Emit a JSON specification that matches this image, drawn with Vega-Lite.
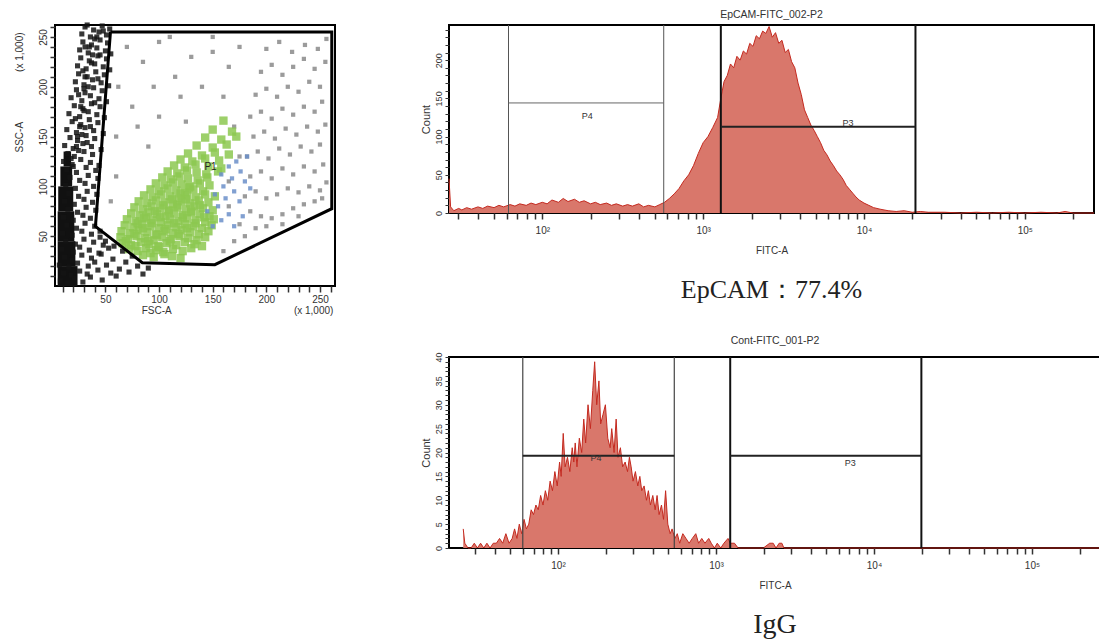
{
  "$schema": "https://vega.github.io/schema/vega-lite/v6.json",
  "background": "white",
  "padding": {"left": 12, "top": 8, "right": 0, "bottom": 0},
  "spacing": 80,
  "datasets": {
    "debris_core": [
      {"ssc_lo": 0, "ssc_hi": 20, "fsc_left": 5.5, "fsc_right": 24},
      {"ssc_lo": 20, "ssc_hi": 45, "fsc_left": 5.5, "fsc_right": 22},
      {"ssc_lo": 45, "ssc_hi": 75, "fsc_left": 5.5, "fsc_right": 21},
      {"ssc_lo": 75, "ssc_hi": 100, "fsc_left": 6, "fsc_right": 20},
      {"ssc_lo": 100, "ssc_hi": 120, "fsc_left": 8, "fsc_right": 19},
      {"ssc_lo": 120, "ssc_hi": 135, "fsc_left": 11, "fsc_right": 18}
    ],
    "gate_P1": [
      {"vertex": 1, "fsc": 54.7, "ssc": 255},
      {"vertex": 2, "fsc": 261, "ssc": 255},
      {"vertex": 3, "fsc": 261, "ssc": 77.6},
      {"vertex": 4, "fsc": 152, "ssc": 21.4},
      {"vertex": 5, "fsc": 84.4, "ssc": 23.4},
      {"vertex": 6, "fsc": 40.7, "ssc": 59.9},
      {"vertex": 7, "fsc": 54.7, "ssc": 255}
    ],
    "gate_P1_label": [{"fsc": 148, "ssc": 119, "gate": "P1"}],
    "events": [
      {"fsc":8,"ssc":5,"pop":"debris"},{"fsc":15,"ssc":3,"pop":"debris"},{"fsc":21,"ssc":8,"pop":"debris"},{"fsc":29,"ssc":4,"pop":"debris"},{"fsc":36,"ssc":9,"pop":"debris"},{"fsc":47,"ssc":6,"pop":"debris"},
      {"fsc":11,"ssc":13,"pop":"debris"},{"fsc":18,"ssc":11,"pop":"debris"},{"fsc":26,"ssc":15,"pop":"debris"},{"fsc":33,"ssc":12,"pop":"debris"},{"fsc":43,"ssc":16,"pop":"debris"},{"fsc":55,"ssc":13,"pop":"debris"},
      {"fsc":7,"ssc":21,"pop":"debris"},{"fsc":16,"ssc":19,"pop":"debris"},{"fsc":24,"ssc":23,"pop":"debris"},{"fsc":34,"ssc":20,"pop":"debris"},{"fsc":40,"ssc":24,"pop":"debris"},{"fsc":51,"ssc":21,"pop":"debris"},{"fsc":63,"ssc":17,"pop":"debris"},
      {"fsc":12,"ssc":29,"pop":"debris"},{"fsc":19,"ssc":26,"pop":"debris"},{"fsc":28,"ssc":31,"pop":"debris"},{"fsc":37,"ssc":28,"pop":"debris"},{"fsc":46,"ssc":32,"pop":"debris"},{"fsc":57,"ssc":27,"pop":"debris"},{"fsc":69,"ssc":24,"pop":"debris"},
      {"fsc":9,"ssc":37,"pop":"debris"},{"fsc":20,"ssc":34,"pop":"debris"},{"fsc":26,"ssc":39,"pop":"debris"},{"fsc":35,"ssc":36,"pop":"debris"},{"fsc":44,"ssc":33,"pop":"debris"},{"fsc":53,"ssc":38,"pop":"debris"},
      {"fsc":13,"ssc":45,"pop":"debris"},{"fsc":22,"ssc":42,"pop":"debris"},{"fsc":30,"ssc":47,"pop":"debris"},{"fsc":39,"ssc":44,"pop":"debris"},{"fsc":48,"ssc":41,"pop":"debris"},
      {"fsc":10,"ssc":53,"pop":"debris"},{"fsc":19,"ssc":51,"pop":"debris"},{"fsc":28,"ssc":55,"pop":"debris"},{"fsc":37,"ssc":52,"pop":"debris"},{"fsc":45,"ssc":49,"pop":"debris"},
      {"fsc":14,"ssc":61,"pop":"debris"},{"fsc":23,"ssc":58,"pop":"debris"},{"fsc":31,"ssc":63,"pop":"debris"},{"fsc":40,"ssc":60,"pop":"debris"},
      {"fsc":11,"ssc":69,"pop":"debris"},{"fsc":20,"ssc":66,"pop":"debris"},{"fsc":29,"ssc":71,"pop":"debris"},{"fsc":36,"ssc":68,"pop":"debris"},
      {"fsc":15,"ssc":77,"pop":"debris"},{"fsc":24,"ssc":74,"pop":"debris"},{"fsc":32,"ssc":79,"pop":"debris"},{"fsc":41,"ssc":76,"pop":"debris"},
      {"fsc":12,"ssc":85,"pop":"debris"},{"fsc":21,"ssc":82,"pop":"debris"},{"fsc":30,"ssc":87,"pop":"debris"},{"fsc":38,"ssc":84,"pop":"debris"},
      {"fsc":16,"ssc":93,"pop":"debris"},{"fsc":25,"ssc":90,"pop":"debris"},{"fsc":33,"ssc":95,"pop":"debris"},{"fsc":42,"ssc":92,"pop":"debris"},
      {"fsc":13,"ssc":101,"pop":"debris"},{"fsc":22,"ssc":98,"pop":"debris"},{"fsc":31,"ssc":103,"pop":"debris"},{"fsc":39,"ssc":100,"pop":"debris"},
      {"fsc":17,"ssc":109,"pop":"debris"},{"fsc":26,"ssc":106,"pop":"debris"},{"fsc":34,"ssc":111,"pop":"debris"},{"fsc":43,"ssc":108,"pop":"debris"},
      {"fsc":14,"ssc":117,"pop":"debris"},{"fsc":23,"ssc":114,"pop":"debris"},{"fsc":32,"ssc":119,"pop":"debris"},{"fsc":41,"ssc":116,"pop":"debris"},
      {"fsc":11,"ssc":125,"pop":"debris"},{"fsc":19,"ssc":122,"pop":"debris"},{"fsc":27,"ssc":127,"pop":"debris"},{"fsc":36,"ssc":124,"pop":"debris"},{"fsc":44,"ssc":121,"pop":"debris"},
      {"fsc":15,"ssc":133,"pop":"debris"},{"fsc":21,"ssc":130,"pop":"debris"},{"fsc":30,"ssc":135,"pop":"debris"},{"fsc":38,"ssc":132,"pop":"debris"},
      {"fsc":12,"ssc":141,"pop":"debris"},{"fsc":20,"ssc":138,"pop":"debris"},{"fsc":29,"ssc":143,"pop":"debris"},{"fsc":37,"ssc":140,"pop":"debris"},{"fsc":46,"ssc":137,"pop":"debris"},
      {"fsc":17,"ssc":149,"pop":"debris"},{"fsc":24,"ssc":146,"pop":"debris"},{"fsc":32,"ssc":151,"pop":"debris"},{"fsc":40,"ssc":148,"pop":"debris"},
      {"fsc":14,"ssc":157,"pop":"debris"},{"fsc":23,"ssc":154,"pop":"debris"},{"fsc":31,"ssc":159,"pop":"debris"},{"fsc":39,"ssc":156,"pop":"debris"},{"fsc":48,"ssc":153,"pop":"debris"},
      {"fsc":19,"ssc":165,"pop":"debris"},{"fsc":27,"ssc":162,"pop":"debris"},{"fsc":35,"ssc":167,"pop":"debris"},{"fsc":43,"ssc":164,"pop":"debris"},
      {"fsc":16,"ssc":173,"pop":"debris"},{"fsc":26,"ssc":170,"pop":"debris"},{"fsc":34,"ssc":175,"pop":"debris"},{"fsc":42,"ssc":172,"pop":"debris"},{"fsc":49,"ssc":169,"pop":"debris"},
      {"fsc":21,"ssc":181,"pop":"debris"},{"fsc":29,"ssc":178,"pop":"debris"},{"fsc":37,"ssc":183,"pop":"debris"},{"fsc":45,"ssc":180,"pop":"debris"},
      {"fsc":18,"ssc":189,"pop":"debris"},{"fsc":28,"ssc":186,"pop":"debris"},{"fsc":36,"ssc":191,"pop":"debris"},{"fsc":44,"ssc":188,"pop":"debris"},{"fsc":51,"ssc":185,"pop":"debris"},
      {"fsc":23,"ssc":197,"pop":"debris"},{"fsc":31,"ssc":194,"pop":"debris"},{"fsc":39,"ssc":199,"pop":"debris"},{"fsc":47,"ssc":196,"pop":"debris"},
      {"fsc":22,"ssc":205,"pop":"debris"},{"fsc":30,"ssc":202,"pop":"debris"},{"fsc":38,"ssc":207,"pop":"debris"},{"fsc":46,"ssc":204,"pop":"debris"},{"fsc":53,"ssc":201,"pop":"debris"},
      {"fsc":25,"ssc":213,"pop":"debris"},{"fsc":33,"ssc":210,"pop":"debris"},{"fsc":41,"ssc":215,"pop":"debris"},{"fsc":49,"ssc":212,"pop":"debris"},
      {"fsc":24,"ssc":221,"pop":"debris"},{"fsc":32,"ssc":218,"pop":"debris"},{"fsc":40,"ssc":223,"pop":"debris"},{"fsc":48,"ssc":220,"pop":"debris"},{"fsc":54,"ssc":217,"pop":"debris"},
      {"fsc":27,"ssc":229,"pop":"debris"},{"fsc":35,"ssc":226,"pop":"debris"},{"fsc":43,"ssc":231,"pop":"debris"},{"fsc":51,"ssc":228,"pop":"debris"},
      {"fsc":26,"ssc":237,"pop":"debris"},{"fsc":34,"ssc":234,"pop":"debris"},{"fsc":42,"ssc":239,"pop":"debris"},{"fsc":50,"ssc":236,"pop":"debris"},{"fsc":55,"ssc":233,"pop":"debris"},
      {"fsc":29,"ssc":245,"pop":"debris"},{"fsc":37,"ssc":242,"pop":"debris"},{"fsc":45,"ssc":247,"pop":"debris"},{"fsc":52,"ssc":244,"pop":"debris"},
      {"fsc":28,"ssc":253,"pop":"debris"},{"fsc":36,"ssc":250,"pop":"debris"},{"fsc":44,"ssc":255,"pop":"debris"},{"fsc":51,"ssc":252,"pop":"debris"},
      {"fsc":31,"ssc":260,"pop":"debris"},{"fsc":39,"ssc":257,"pop":"debris"},{"fsc":47,"ssc":261,"pop":"debris"},{"fsc":54,"ssc":258,"pop":"debris"},
      {"fsc":18,"ssc":128,"pop":"debris"},{"fsc":25,"ssc":136,"pop":"debris"},{"fsc":33,"ssc":144,"pop":"debris"},{"fsc":28,"ssc":152,"pop":"debris"},{"fsc":36,"ssc":160,"pop":"debris"},{"fsc":22,"ssc":168,"pop":"debris"},{"fsc":30,"ssc":176,"pop":"debris"},{"fsc":40,"ssc":184,"pop":"debris"},{"fsc":25,"ssc":192,"pop":"debris"},{"fsc":34,"ssc":200,"pop":"debris"},{"fsc":43,"ssc":208,"pop":"debris"},{"fsc":29,"ssc":216,"pop":"debris"},{"fsc":37,"ssc":224,"pop":"debris"},{"fsc":45,"ssc":232,"pop":"debris"},{"fsc":31,"ssc":240,"pop":"debris"},{"fsc":40,"ssc":248,"pop":"debris"},{"fsc":48,"ssc":256,"pop":"debris"},{"fsc":33,"ssc":262,"pop":"debris"},{"fsc":20,"ssc":120,"pop":"debris"},{"fsc":24,"ssc":150,"pop":"debris"},{"fsc":27,"ssc":180,"pop":"debris"},{"fsc":31,"ssc":210,"pop":"debris"},{"fsc":35,"ssc":240,"pop":"debris"},{"fsc":38,"ssc":232,"pop":"debris"},{"fsc":42,"ssc":250,"pop":"debris"},{"fsc":30,"ssc":198,"pop":"debris"},{"fsc":26,"ssc":160,"pop":"debris"},{"fsc":23,"ssc":140,"pop":"debris"},
      {"fsc":60,"ssc":10,"pop":"debris"},{"fsc":72,"ssc":14,"pop":"debris"},{"fsc":80,"ssc":20,"pop":"debris"},{"fsc":66,"ssc":35,"pop":"debris"},{"fsc":75,"ssc":30,"pop":"debris"},{"fsc":50,"ssc":45,"pop":"debris"},{"fsc":58,"ssc":40,"pop":"debris"},{"fsc":45,"ssc":55,"pop":"debris"},{"fsc":85,"ssc":12,"pop":"debris"},{"fsc":90,"ssc":18,"pop":"debris"},
      {"fsc":185,"ssc":75,"pop":"other"},{"fsc":195,"ssc":70,"pop":"other"},{"fsc":205,"ssc":68,"pop":"other"},{"fsc":215,"ssc":72,"pop":"other"},{"fsc":225,"ssc":78,"pop":"other"},{"fsc":235,"ssc":82,"pop":"other"},{"fsc":245,"ssc":85,"pop":"other"},{"fsc":252,"ssc":88,"pop":"other"},
      {"fsc":180,"ssc":90,"pop":"other"},{"fsc":190,"ssc":95,"pop":"other"},{"fsc":200,"ssc":88,"pop":"other"},{"fsc":210,"ssc":92,"pop":"other"},{"fsc":220,"ssc":98,"pop":"other"},{"fsc":230,"ssc":94,"pop":"other"},{"fsc":240,"ssc":100,"pop":"other"},{"fsc":250,"ssc":96,"pop":"other"},{"fsc":256,"ssc":104,"pop":"other"},
      {"fsc":185,"ssc":110,"pop":"other"},{"fsc":195,"ssc":115,"pop":"other"},{"fsc":205,"ssc":108,"pop":"other"},{"fsc":215,"ssc":118,"pop":"other"},{"fsc":225,"ssc":112,"pop":"other"},{"fsc":235,"ssc":120,"pop":"other"},{"fsc":245,"ssc":115,"pop":"other"},{"fsc":253,"ssc":122,"pop":"other"},
      {"fsc":182,"ssc":130,"pop":"other"},{"fsc":192,"ssc":135,"pop":"other"},{"fsc":202,"ssc":128,"pop":"other"},{"fsc":212,"ssc":138,"pop":"other"},{"fsc":222,"ssc":132,"pop":"other"},{"fsc":232,"ssc":140,"pop":"other"},{"fsc":242,"ssc":135,"pop":"other"},{"fsc":250,"ssc":142,"pop":"other"},
      {"fsc":188,"ssc":150,"pop":"other"},{"fsc":198,"ssc":155,"pop":"other"},{"fsc":208,"ssc":148,"pop":"other"},{"fsc":218,"ssc":158,"pop":"other"},{"fsc":228,"ssc":152,"pop":"other"},{"fsc":238,"ssc":160,"pop":"other"},{"fsc":248,"ssc":155,"pop":"other"},{"fsc":255,"ssc":162,"pop":"other"},
      {"fsc":185,"ssc":170,"pop":"other"},{"fsc":195,"ssc":175,"pop":"other"},{"fsc":205,"ssc":168,"pop":"other"},{"fsc":215,"ssc":178,"pop":"other"},{"fsc":225,"ssc":172,"pop":"other"},{"fsc":235,"ssc":180,"pop":"other"},{"fsc":245,"ssc":175,"pop":"other"},{"fsc":252,"ssc":185,"pop":"other"},
      {"fsc":190,"ssc":192,"pop":"other"},{"fsc":200,"ssc":198,"pop":"other"},{"fsc":210,"ssc":190,"pop":"other"},{"fsc":220,"ssc":200,"pop":"other"},{"fsc":230,"ssc":195,"pop":"other"},{"fsc":240,"ssc":205,"pop":"other"},{"fsc":250,"ssc":200,"pop":"other"},
      {"fsc":195,"ssc":215,"pop":"other"},{"fsc":205,"ssc":222,"pop":"other"},{"fsc":215,"ssc":212,"pop":"other"},{"fsc":225,"ssc":220,"pop":"other"},{"fsc":235,"ssc":228,"pop":"other"},{"fsc":245,"ssc":218,"pop":"other"},{"fsc":255,"ssc":225,"pop":"other"},
      {"fsc":200,"ssc":238,"pop":"other"},{"fsc":212,"ssc":245,"pop":"other"},{"fsc":224,"ssc":235,"pop":"other"},{"fsc":236,"ssc":242,"pop":"other"},{"fsc":248,"ssc":238,"pop":"other"},{"fsc":256,"ssc":248,"pop":"other"},
      {"fsc":70,"ssc":240,"pop":"other"},{"fsc":85,"ssc":225,"pop":"other"},{"fsc":100,"ssc":245,"pop":"other"},{"fsc":115,"ssc":210,"pop":"other"},{"fsc":130,"ssc":230,"pop":"other"},{"fsc":150,"ssc":250,"pop":"other"},{"fsc":165,"ssc":220,"pop":"other"},{"fsc":175,"ssc":240,"pop":"other"},{"fsc":120,"ssc":190,"pop":"other"},{"fsc":95,"ssc":200,"pop":"other"},{"fsc":75,"ssc":180,"pop":"other"},{"fsc":140,"ssc":200,"pop":"other"},{"fsc":160,"ssc":190,"pop":"other"},{"fsc":60,"ssc":150,"pop":"other"},{"fsc":80,"ssc":160,"pop":"other"},{"fsc":100,"ssc":170,"pop":"other"},{"fsc":125,"ssc":165,"pop":"other"},{"fsc":170,"ssc":160,"pop":"other"},{"fsc":175,"ssc":130,"pop":"other"},{"fsc":165,"ssc":105,"pop":"other"},{"fsc":60,"ssc":110,"pop":"other"},{"fsc":55,"ssc":85,"pop":"other"},{"fsc":150,"ssc":235,"pop":"other"},{"fsc":110,"ssc":250,"pop":"other"},{"fsc":62,"ssc":200,"pop":"other"},{"fsc":90,"ssc":140,"pop":"other"},
      {"fsc":160,"ssc":35,"pop":"other"},{"fsc":170,"ssc":45,"pop":"other"},{"fsc":180,"ssc":50,"pop":"other"},{"fsc":190,"ssc":58,"pop":"other"},{"fsc":175,"ssc":62,"pop":"other"},{"fsc":165,"ssc":80,"pop":"other"},{"fsc":200,"ssc":60,"pop":"other"},{"fsc":215,"ssc":62,"pop":"other"},{"fsc":230,"ssc":70,"pop":"other"},
      {"fsc":85,"ssc":31,"pop":"P1"},{"fsc":95,"ssc":29,"pop":"P1"},{"fsc":105,"ssc":32,"pop":"P1"},{"fsc":112,"ssc":30,"pop":"P1"},{"fsc":120,"ssc":28,"pop":"P1"},
      {"fsc":72,"ssc":37,"pop":"P1"},{"fsc":80,"ssc":35,"pop":"P1"},{"fsc":88,"ssc":38,"pop":"P1"},{"fsc":97,"ssc":36,"pop":"P1"},{"fsc":104,"ssc":34,"pop":"P1"},{"fsc":113,"ssc":37,"pop":"P1"},{"fsc":122,"ssc":35,"pop":"P1"},{"fsc":130,"ssc":38,"pop":"P1"},
      {"fsc":66,"ssc":43,"pop":"P1"},{"fsc":74,"ssc":41,"pop":"P1"},{"fsc":83,"ssc":44,"pop":"P1"},{"fsc":91,"ssc":42,"pop":"P1"},{"fsc":99,"ssc":40,"pop":"P1"},{"fsc":107,"ssc":43,"pop":"P1"},{"fsc":116,"ssc":41,"pop":"P1"},{"fsc":124,"ssc":44,"pop":"P1"},{"fsc":133,"ssc":42,"pop":"P1"},{"fsc":140,"ssc":40,"pop":"P1"},
      {"fsc":64,"ssc":49,"pop":"P1"},{"fsc":71,"ssc":47,"pop":"P1"},{"fsc":79,"ssc":50,"pop":"P1"},{"fsc":87,"ssc":48,"pop":"P1"},{"fsc":95,"ssc":46,"pop":"P1"},{"fsc":103,"ssc":49,"pop":"P1"},{"fsc":111,"ssc":47,"pop":"P1"},{"fsc":119,"ssc":50,"pop":"P1"},{"fsc":127,"ssc":48,"pop":"P1"},{"fsc":135,"ssc":46,"pop":"P1"},{"fsc":143,"ssc":49,"pop":"P1"},
      {"fsc":65,"ssc":55,"pop":"P1"},{"fsc":73,"ssc":53,"pop":"P1"},{"fsc":81,"ssc":56,"pop":"P1"},{"fsc":89,"ssc":54,"pop":"P1"},{"fsc":97,"ssc":52,"pop":"P1"},{"fsc":105,"ssc":55,"pop":"P1"},{"fsc":113,"ssc":53,"pop":"P1"},{"fsc":121,"ssc":56,"pop":"P1"},{"fsc":129,"ssc":54,"pop":"P1"},{"fsc":137,"ssc":52,"pop":"P1"},{"fsc":146,"ssc":55,"pop":"P1"},
      {"fsc":68,"ssc":61,"pop":"P1"},{"fsc":76,"ssc":59,"pop":"P1"},{"fsc":84,"ssc":62,"pop":"P1"},{"fsc":92,"ssc":60,"pop":"P1"},{"fsc":100,"ssc":58,"pop":"P1"},{"fsc":108,"ssc":61,"pop":"P1"},{"fsc":116,"ssc":59,"pop":"P1"},{"fsc":124,"ssc":62,"pop":"P1"},{"fsc":132,"ssc":60,"pop":"P1"},{"fsc":140,"ssc":58,"pop":"P1"},{"fsc":149,"ssc":61,"pop":"P1"},
      {"fsc":70,"ssc":67,"pop":"P1"},{"fsc":78,"ssc":65,"pop":"P1"},{"fsc":86,"ssc":68,"pop":"P1"},{"fsc":94,"ssc":66,"pop":"P1"},{"fsc":102,"ssc":64,"pop":"P1"},{"fsc":110,"ssc":67,"pop":"P1"},{"fsc":118,"ssc":65,"pop":"P1"},{"fsc":126,"ssc":68,"pop":"P1"},{"fsc":134,"ssc":66,"pop":"P1"},{"fsc":143,"ssc":64,"pop":"P1"},{"fsc":151,"ssc":67,"pop":"P1"},
      {"fsc":74,"ssc":73,"pop":"P1"},{"fsc":82,"ssc":71,"pop":"P1"},{"fsc":90,"ssc":74,"pop":"P1"},{"fsc":98,"ssc":72,"pop":"P1"},{"fsc":106,"ssc":70,"pop":"P1"},{"fsc":114,"ssc":73,"pop":"P1"},{"fsc":122,"ssc":71,"pop":"P1"},{"fsc":130,"ssc":74,"pop":"P1"},{"fsc":138,"ssc":72,"pop":"P1"},{"fsc":147,"ssc":70,"pop":"P1"},
      {"fsc":77,"ssc":79,"pop":"P1"},{"fsc":85,"ssc":77,"pop":"P1"},{"fsc":93,"ssc":80,"pop":"P1"},{"fsc":101,"ssc":78,"pop":"P1"},{"fsc":109,"ssc":76,"pop":"P1"},{"fsc":117,"ssc":79,"pop":"P1"},{"fsc":125,"ssc":77,"pop":"P1"},{"fsc":133,"ssc":80,"pop":"P1"},{"fsc":141,"ssc":78,"pop":"P1"},{"fsc":150,"ssc":76,"pop":"P1"},
      {"fsc":81,"ssc":85,"pop":"P1"},{"fsc":89,"ssc":83,"pop":"P1"},{"fsc":97,"ssc":86,"pop":"P1"},{"fsc":105,"ssc":84,"pop":"P1"},{"fsc":113,"ssc":82,"pop":"P1"},{"fsc":121,"ssc":85,"pop":"P1"},{"fsc":129,"ssc":83,"pop":"P1"},{"fsc":137,"ssc":86,"pop":"P1"},{"fsc":146,"ssc":84,"pop":"P1"},
      {"fsc":86,"ssc":91,"pop":"P1"},{"fsc":94,"ssc":89,"pop":"P1"},{"fsc":102,"ssc":92,"pop":"P1"},{"fsc":110,"ssc":90,"pop":"P1"},{"fsc":118,"ssc":88,"pop":"P1"},{"fsc":126,"ssc":91,"pop":"P1"},{"fsc":134,"ssc":89,"pop":"P1"},{"fsc":143,"ssc":92,"pop":"P1"},{"fsc":152,"ssc":90,"pop":"P1"},
      {"fsc":92,"ssc":97,"pop":"P1"},{"fsc":100,"ssc":95,"pop":"P1"},{"fsc":108,"ssc":98,"pop":"P1"},{"fsc":116,"ssc":96,"pop":"P1"},{"fsc":124,"ssc":94,"pop":"P1"},{"fsc":132,"ssc":97,"pop":"P1"},{"fsc":141,"ssc":95,"pop":"P1"},
      {"fsc":97,"ssc":103,"pop":"P1"},{"fsc":105,"ssc":101,"pop":"P1"},{"fsc":113,"ssc":104,"pop":"P1"},{"fsc":121,"ssc":102,"pop":"P1"},{"fsc":129,"ssc":100,"pop":"P1"},{"fsc":138,"ssc":103,"pop":"P1"},{"fsc":147,"ssc":101,"pop":"P1"},
      {"fsc":103,"ssc":109,"pop":"P1"},{"fsc":111,"ssc":107,"pop":"P1"},{"fsc":119,"ssc":110,"pop":"P1"},{"fsc":127,"ssc":108,"pop":"P1"},{"fsc":136,"ssc":106,"pop":"P1"},{"fsc":145,"ssc":109,"pop":"P1"},
      {"fsc":108,"ssc":115,"pop":"P1"},{"fsc":117,"ssc":113,"pop":"P1"},{"fsc":126,"ssc":116,"pop":"P1"},{"fsc":135,"ssc":114,"pop":"P1"},{"fsc":144,"ssc":112,"pop":"P1"},{"fsc":155,"ssc":115,"pop":"P1"},
      {"fsc":114,"ssc":121,"pop":"P1"},{"fsc":124,"ssc":119,"pop":"P1"},{"fsc":134,"ssc":122,"pop":"P1"},{"fsc":146,"ssc":120,"pop":"P1"},{"fsc":158,"ssc":118,"pop":"P1"},
      {"fsc":120,"ssc":127,"pop":"P1"},{"fsc":131,"ssc":125,"pop":"P1"},{"fsc":143,"ssc":128,"pop":"P1"},{"fsc":156,"ssc":126,"pop":"P1"},
      {"fsc":127,"ssc":133,"pop":"P1"},{"fsc":140,"ssc":131,"pop":"P1"},{"fsc":152,"ssc":134,"pop":"P1"},{"fsc":165,"ssc":132,"pop":"P1"},
      {"fsc":135,"ssc":141,"pop":"P1"},{"fsc":150,"ssc":139,"pop":"P1"},{"fsc":163,"ssc":142,"pop":"P1"},
      {"fsc":143,"ssc":149,"pop":"P1"},{"fsc":158,"ssc":147,"pop":"P1"},{"fsc":172,"ssc":150,"pop":"P1"},
      {"fsc":150,"ssc":157,"pop":"P1"},{"fsc":168,"ssc":155,"pop":"P1"},{"fsc":160,"ssc":166,"pop":"P1"},
      {"fsc":69,"ssc":45,"pop":"P1"},{"fsc":77,"ssc":52,"pop":"P1"},{"fsc":85,"ssc":58,"pop":"P1"},{"fsc":93,"ssc":63,"pop":"P1"},{"fsc":101,"ssc":69,"pop":"P1"},{"fsc":109,"ssc":75,"pop":"P1"},{"fsc":117,"ssc":81,"pop":"P1"},{"fsc":125,"ssc":87,"pop":"P1"},{"fsc":90,"ssc":45,"pop":"P1"},{"fsc":98,"ssc":51,"pop":"P1"},{"fsc":106,"ssc":57,"pop":"P1"},{"fsc":114,"ssc":63,"pop":"P1"},{"fsc":122,"ssc":69,"pop":"P1"},{"fsc":130,"ssc":75,"pop":"P1"},{"fsc":138,"ssc":81,"pop":"P1"},{"fsc":80,"ssc":63,"pop":"P1"},{"fsc":88,"ssc":69,"pop":"P1"},{"fsc":96,"ssc":75,"pop":"P1"},{"fsc":104,"ssc":81,"pop":"P1"},{"fsc":112,"ssc":87,"pop":"P1"},{"fsc":120,"ssc":93,"pop":"P1"},{"fsc":128,"ssc":99,"pop":"P1"},{"fsc":100,"ssc":39,"pop":"P1"},{"fsc":110,"ssc":45,"pop":"P1"},{"fsc":118,"ssc":52,"pop":"P1"},{"fsc":126,"ssc":58,"pop":"P1"},{"fsc":134,"ssc":63,"pop":"P1"},{"fsc":142,"ssc":69,"pop":"P1"},{"fsc":92,"ssc":33,"pop":"P1"},{"fsc":78,"ssc":40,"pop":"P1"},
      {"fsc":150,"ssc":60,"pop":"blue"},{"fsc":158,"ssc":66,"pop":"blue"},{"fsc":165,"ssc":72,"pop":"blue"},{"fsc":155,"ssc":80,"pop":"blue"},{"fsc":162,"ssc":88,"pop":"blue"},{"fsc":170,"ssc":95,"pop":"blue"},{"fsc":175,"ssc":85,"pop":"blue"},{"fsc":160,"ssc":100,"pop":"blue"},{"fsc":168,"ssc":108,"pop":"blue"},{"fsc":176,"ssc":115,"pop":"blue"},{"fsc":172,"ssc":125,"pop":"blue"},{"fsc":180,"ssc":105,"pop":"blue"},{"fsc":152,"ssc":92,"pop":"blue"},{"fsc":165,"ssc":120,"pop":"blue"},{"fsc":178,"ssc":70,"pop":"blue"},{"fsc":170,"ssc":60,"pop":"blue"},{"fsc":185,"ssc":98,"pop":"blue"},{"fsc":158,"ssc":112,"pop":"blue"},{"fsc":182,"ssc":130,"pop":"blue"},{"fsc":145,"ssc":75,"pop":"blue"}
    ],
    "hist_epcam": [
      {"log10_fitc":1.42,"count":45},{"log10_fitc":1.43,"count":8},{"log10_fitc":1.45,"count":3},{"log10_fitc":1.48,"count":6},{"log10_fitc":1.5,"count":4},{"log10_fitc":1.53,"count":7},{"log10_fitc":1.56,"count":5},{"log10_fitc":1.6,"count":8},{"log10_fitc":1.63,"count":6},{"log10_fitc":1.66,"count":9},{"log10_fitc":1.7,"count":7},{"log10_fitc":1.73,"count":10},{"log10_fitc":1.76,"count":8},{"log10_fitc":1.8,"count":11},{"log10_fitc":1.83,"count":9},{"log10_fitc":1.86,"count":12},{"log10_fitc":1.9,"count":10},{"log10_fitc":1.93,"count":13},{"log10_fitc":1.96,"count":11},{"log10_fitc":2.0,"count":14},{"log10_fitc":2.03,"count":12},{"log10_fitc":2.06,"count":17},{"log10_fitc":2.1,"count":14},{"log10_fitc":2.13,"count":19},{"log10_fitc":2.16,"count":15},{"log10_fitc":2.2,"count":18},{"log10_fitc":2.23,"count":14},{"log10_fitc":2.26,"count":16},{"log10_fitc":2.3,"count":12},{"log10_fitc":2.33,"count":14},{"log10_fitc":2.36,"count":11},{"log10_fitc":2.4,"count":13},{"log10_fitc":2.43,"count":10},{"log10_fitc":2.46,"count":12},{"log10_fitc":2.5,"count":9},{"log10_fitc":2.53,"count":11},{"log10_fitc":2.56,"count":9},{"log10_fitc":2.6,"count":12},{"log10_fitc":2.63,"count":8},{"log10_fitc":2.66,"count":10},{"log10_fitc":2.7,"count":8},{"log10_fitc":2.73,"count":11},{"log10_fitc":2.76,"count":14},{"log10_fitc":2.79,"count":19},{"log10_fitc":2.82,"count":25},{"log10_fitc":2.85,"count":32},{"log10_fitc":2.88,"count":42},{"log10_fitc":2.91,"count":50},{"log10_fitc":2.94,"count":62},{"log10_fitc":2.97,"count":78},{"log10_fitc":3.0,"count":92},{"log10_fitc":3.03,"count":100},{"log10_fitc":3.06,"count":112},{"log10_fitc":3.09,"count":125},{"log10_fitc":3.11,"count":150},{"log10_fitc":3.13,"count":172},{"log10_fitc":3.15,"count":180},{"log10_fitc":3.17,"count":195},{"log10_fitc":3.19,"count":190},{"log10_fitc":3.21,"count":205},{"log10_fitc":3.23,"count":200},{"log10_fitc":3.25,"count":212},{"log10_fitc":3.27,"count":208},{"log10_fitc":3.29,"count":222},{"log10_fitc":3.31,"count":218},{"log10_fitc":3.33,"count":232},{"log10_fitc":3.35,"count":228},{"log10_fitc":3.37,"count":238},{"log10_fitc":3.39,"count":235},{"log10_fitc":3.41,"count":244},{"log10_fitc":3.43,"count":230},{"log10_fitc":3.45,"count":236},{"log10_fitc":3.47,"count":222},{"log10_fitc":3.49,"count":226},{"log10_fitc":3.51,"count":210},{"log10_fitc":3.53,"count":214},{"log10_fitc":3.55,"count":198},{"log10_fitc":3.57,"count":190},{"log10_fitc":3.59,"count":170},{"log10_fitc":3.61,"count":155},{"log10_fitc":3.63,"count":135},{"log10_fitc":3.65,"count":125},{"log10_fitc":3.67,"count":115},{"log10_fitc":3.69,"count":108},{"log10_fitc":3.71,"count":100},{"log10_fitc":3.73,"count":92},{"log10_fitc":3.75,"count":82},{"log10_fitc":3.77,"count":76},{"log10_fitc":3.79,"count":68},{"log10_fitc":3.81,"count":62},{"log10_fitc":3.83,"count":55},{"log10_fitc":3.85,"count":50},{"log10_fitc":3.87,"count":44},{"log10_fitc":3.89,"count":36},{"log10_fitc":3.91,"count":31},{"log10_fitc":3.93,"count":26},{"log10_fitc":3.95,"count":21},{"log10_fitc":3.97,"count":17},{"log10_fitc":4.0,"count":13},{"log10_fitc":4.03,"count":10},{"log10_fitc":4.06,"count":7},{"log10_fitc":4.1,"count":5},{"log10_fitc":4.15,"count":3},{"log10_fitc":4.2,"count":2},{"log10_fitc":4.25,"count":3},{"log10_fitc":4.3,"count":1},{"log10_fitc":4.35,"count":2},{"log10_fitc":4.4,"count":1},{"log10_fitc":4.5,"count":1},{"log10_fitc":4.6,"count":0},{"log10_fitc":4.7,"count":1},{"log10_fitc":4.8,"count":0},{"log10_fitc":4.9,"count":1},{"log10_fitc":5.0,"count":0},{"log10_fitc":5.1,"count":1},{"log10_fitc":5.2,"count":0},{"log10_fitc":5.25,"count":2},{"log10_fitc":5.3,"count":0},{"log10_fitc":5.43,"count":0}
    ],
    "hist_igg": [
      {"log10_fitc":1.4,"count":4},{"log10_fitc":1.41,"count":1},{"log10_fitc":1.43,"count":0},{"log10_fitc":1.45,"count":0},{"log10_fitc":1.47,"count":1},{"log10_fitc":1.49,"count":0},{"log10_fitc":1.51,"count":1},{"log10_fitc":1.53,"count":0},{"log10_fitc":1.55,"count":1},{"log10_fitc":1.57,"count":0},{"log10_fitc":1.59,"count":1},{"log10_fitc":1.61,"count":1},{"log10_fitc":1.63,"count":2},{"log10_fitc":1.65,"count":1},{"log10_fitc":1.67,"count":3},{"log10_fitc":1.69,"count":1},{"log10_fitc":1.71,"count":2},{"log10_fitc":1.725,"count":4},{"log10_fitc":1.74,"count":2},{"log10_fitc":1.755,"count":5},{"log10_fitc":1.77,"count":3},{"log10_fitc":1.785,"count":6},{"log10_fitc":1.8,"count":4},{"log10_fitc":1.815,"count":5},{"log10_fitc":1.83,"count":8},{"log10_fitc":1.845,"count":7},{"log10_fitc":1.86,"count":9},{"log10_fitc":1.875,"count":8},{"log10_fitc":1.89,"count":11},{"log10_fitc":1.905,"count":9},{"log10_fitc":1.92,"count":12},{"log10_fitc":1.935,"count":10},{"log10_fitc":1.95,"count":14},{"log10_fitc":1.965,"count":12},{"log10_fitc":1.98,"count":16},{"log10_fitc":1.995,"count":13},{"log10_fitc":2.01,"count":18},{"log10_fitc":2.02,"count":15},{"log10_fitc":2.033,"count":24},{"log10_fitc":2.045,"count":17},{"log10_fitc":2.06,"count":19},{"log10_fitc":2.075,"count":16},{"log10_fitc":2.09,"count":21},{"log10_fitc":2.1,"count":18},{"log10_fitc":2.109,"count":22},{"log10_fitc":2.12,"count":17},{"log10_fitc":2.135,"count":23},{"log10_fitc":2.15,"count":20},{"log10_fitc":2.163,"count":27},{"log10_fitc":2.175,"count":22},{"log10_fitc":2.19,"count":30},{"log10_fitc":2.205,"count":25},{"log10_fitc":2.22,"count":33},{"log10_fitc":2.232,"count":39},{"log10_fitc":2.245,"count":30},{"log10_fitc":2.259,"count":35},{"log10_fitc":2.27,"count":26},{"log10_fitc":2.285,"count":28},{"log10_fitc":2.3,"count":30},{"log10_fitc":2.315,"count":23},{"log10_fitc":2.33,"count":21},{"log10_fitc":2.34,"count":25},{"log10_fitc":2.355,"count":20},{"log10_fitc":2.368,"count":27},{"log10_fitc":2.38,"count":19},{"log10_fitc":2.395,"count":21},{"log10_fitc":2.409,"count":17},{"log10_fitc":2.425,"count":18},{"log10_fitc":2.44,"count":16},{"log10_fitc":2.452,"count":19},{"log10_fitc":2.463,"count":17},{"log10_fitc":2.475,"count":14},{"log10_fitc":2.49,"count":16},{"log10_fitc":2.505,"count":13},{"log10_fitc":2.518,"count":15},{"log10_fitc":2.53,"count":12},{"log10_fitc":2.545,"count":13},{"log10_fitc":2.56,"count":10},{"log10_fitc":2.572,"count":12},{"log10_fitc":2.585,"count":9},{"log10_fitc":2.6,"count":11},{"log10_fitc":2.615,"count":8},{"log10_fitc":2.627,"count":11},{"log10_fitc":2.64,"count":7},{"log10_fitc":2.655,"count":9},{"log10_fitc":2.668,"count":6},{"log10_fitc":2.681,"count":12},{"log10_fitc":2.695,"count":5},{"log10_fitc":2.71,"count":3},{"log10_fitc":2.722,"count":4},{"log10_fitc":2.74,"count":2},{"log10_fitc":2.755,"count":3},{"log10_fitc":2.77,"count":1},{"log10_fitc":2.79,"count":3},{"log10_fitc":2.81,"count":2},{"log10_fitc":2.83,"count":1},{"log10_fitc":2.85,"count":2},{"log10_fitc":2.872,"count":3},{"log10_fitc":2.89,"count":1},{"log10_fitc":2.91,"count":2},{"log10_fitc":2.93,"count":1},{"log10_fitc":2.954,"count":2},{"log10_fitc":2.97,"count":1},{"log10_fitc":2.99,"count":0},{"log10_fitc":3.008,"count":1},{"log10_fitc":3.03,"count":0},{"log10_fitc":3.05,"count":1},{"log10_fitc":3.076,"count":2},{"log10_fitc":3.09,"count":1},{"log10_fitc":3.117,"count":1},{"log10_fitc":3.14,"count":0},{"log10_fitc":3.3,"count":0},{"log10_fitc":3.34,"count":1},{"log10_fitc":3.362,"count":1},{"log10_fitc":3.38,"count":0},{"log10_fitc":3.4,"count":1},{"log10_fitc":3.417,"count":1},{"log10_fitc":3.43,"count":0},{"log10_fitc":5.43,"count":0}
    ],
    "gates_epcam": [
      {"gate": "P4", "lo": 1.79, "hi": 2.755, "level": 144, "label_x": 2.28, "label_y": 127},
      {"gate": "P3", "lo": 3.11, "hi": 4.32, "level": 113, "label_x": 3.9, "label_y": 118}
    ],
    "gates_igg": [
      {"gate": "P4", "lo": 1.777, "hi": 2.736, "level": 19.3, "label_x": 2.24, "label_y": 18.8},
      {"gate": "P3", "lo": 3.09, "hi": 4.3, "level": 19.3, "label_x": 3.85, "label_y": 17.9}
    ]
  },
  "hconcat": [
    {
      "width": 280,
      "height": 261,
      "encoding": {
        "x": {"type": "quantitative", "scale": {"domain": [3, 264], "nice": false},
              "axis": {"values": [10, 20, 30, 40, 50, 60, 70, 80, 90, 100, 110, 120, 130, 140, 150, 160, 170, 180, 190, 200, 210, 220, 230, 240, 250, 260], "labelExpr": "datum.value % 50 == 0 ? datum.label : ''", "tickSize": 6, "tickWidth": 1.5, "labelFontSize": 10, "labelPadding": 2, "labelFlush": false, "title": "FSC-A\u00a0\u00a0\u00a0\u00a0\u00a0\u00a0\u00a0\u00a0\u00a0\u00a0\u00a0\u00a0\u00a0\u00a0\u00a0\u00a0\u00a0\u00a0\u00a0\u00a0\u00a0\u00a0\u00a0\u00a0\u00a0\u00a0\u00a0\u00a0\u00a0\u00a0\u00a0\u00a0\u00a0\u00a0\u00a0\u00a0\u00a0\u00a0\u00a0\u00a0\u00a0\u00a0\u00a0\u00a0(x 1,000)", "titleFontSize": 10, "titleX": 182, "titleY": 24, "titleBaseline": "middle"}},
        "y": {"type": "quantitative", "scale": {"domain": [0, 262], "nice": false},
              "axis": {"values": [10, 20, 30, 40, 50, 60, 70, 80, 90, 100, 110, 120, 130, 140, 150, 160, 170, 180, 190, 200, 210, 220, 230, 240, 250, 260], "labelExpr": "datum.value % 50 == 0 ? datum.label : ''", "labelAngle": -90, "tickSize": 5, "tickWidth": 1.5, "labelFontSize": 10, "labelPadding": 2, "labelFlush": false, "title": "SSC-A\u00a0\u00a0\u00a0\u00a0\u00a0\u00a0\u00a0\u00a0\u00a0\u00a0\u00a0\u00a0\u00a0\u00a0\u00a0\u00a0\u00a0\u00a0(x 1,000)", "titleFontSize": 10, "titleAngle": -90, "titleX": -36, "titleY": 67, "titleBaseline": "middle"}}
      },
      "layer": [
        {
          "data": {"name": "debris_core"},
          "mark": {"type": "rect", "color": "#111111"},
          "encoding": {
            "x": {"field": "fsc_left", "type": "quantitative"},
            "x2": {"field": "fsc_right"},
            "y": {"field": "ssc_lo", "type": "quantitative"},
            "y2": {"field": "ssc_hi"}
          }
        },
        {
          "data": {"name": "events"},
          "mark": {"type": "square", "opacity": 0.85},
          "encoding": {
            "x": {"field": "fsc", "type": "quantitative"},
            "y": {"field": "ssc", "type": "quantitative"},
            "color": {"field": "pop", "type": "nominal", "scale": {"domain": ["debris", "other", "P1", "blue"], "range": ["#141414", "#8a8a8a", "#8cc850", "#6b8fc9"]}, "legend": null},
            "size": {"condition": [{"test": "datum.pop == 'P1'", "value": 70}, {"test": "datum.pop == 'debris'", "value": 26}, {"test": "datum.pop == 'blue'", "value": 18}], "value": 18}
          }
        },
        {
          "data": {"name": "gate_P1"},
          "mark": {"type": "line", "color": "#000000", "strokeWidth": 3},
          "encoding": {
            "x": {"field": "fsc", "type": "quantitative"},
            "y": {"field": "ssc", "type": "quantitative"},
            "order": {"field": "vertex", "type": "quantitative"}
          }
        },
        {
          "data": {"name": "gate_P1_label"},
          "mark": {"type": "text", "fontSize": 10, "color": "#222222"},
          "encoding": {
            "x": {"field": "fsc", "type": "quantitative"},
            "y": {"field": "ssc", "type": "quantitative"},
            "text": {"field": "gate"}
          }
        }
      ]
    },
    {
      "spacing": 23,
      "vconcat": [
        {
          "spacing": 12,
          "vconcat": [
            {
              "width": 645,
              "height": 188,
              "title": {"text": "EpCAM-FITC_002-P2", "font": "Liberation Sans", "fontSize": 10.5, "fontWeight": "normal", "color": "#333333", "offset": 4},
              "encoding": {
                "x": {"type": "quantitative", "scale": {"domain": [1.42, 5.43], "nice": false, "zero": false},
                      "axis": {"values": [1.477, 1.602, 1.699, 1.778, 1.845, 1.903, 1.954, 2, 2.301, 2.477, 2.602, 2.699, 2.778, 2.845, 2.903, 2.954, 3, 3.301, 3.477, 3.602, 3.699, 3.778, 3.845, 3.903, 3.954, 4, 4.301, 4.477, 4.602, 4.699, 4.778, 4.845, 4.903, 4.954, 5, 5.301], "labelExpr": "datum.value == 2 ? '10²' : datum.value == 3 ? '10³' : datum.value == 4 ? '10⁴' : datum.value == 5 ? '10⁵' : ''", "tickSize": 6, "tickWidth": 1.5, "labelFontSize": 10, "labelPadding": 6, "labelFlush": false, "title": "FITC-A", "titleFontSize": 10, "titlePadding": 10}},
                "y": {"type": "quantitative", "scale": {"domain": [0, 246], "nice": false},
                      "axis": {"values": [0, 10, 20, 30, 40, 50, 60, 70, 80, 90, 100, 110, 120, 130, 140, 150, 160, 170, 180, 190, 200, 210, 220, 230, 240], "labelExpr": "datum.value % 50 == 0 ? datum.label : ''", "labelAngle": -90, "tickSize": 4, "labelFontSize": 9, "labelPadding": 2, "labelFlush": false, "title": "Count", "titleFontSize": 11, "titlePadding": 3}}
              },
              "layer": [
                {
                  "data": {"name": "hist_epcam"},
                  "mark": {"type": "area", "color": "#d9776b", "opacity": 1},
                  "encoding": {
                    "x": {"field": "log10_fitc", "type": "quantitative"},
                    "y": {"field": "count", "type": "quantitative"}
                  }
                },
                {
                  "data": {"name": "hist_epcam"},
                  "mark": {"type": "line", "color": "#c42a20", "strokeWidth": 1},
                  "encoding": {
                    "x": {"field": "log10_fitc", "type": "quantitative"},
                    "y": {"field": "count", "type": "quantitative"}
                  }
                },
                {
                  "data": {"name": "gates_epcam"},
                  "mark": {"type": "rule"},
                  "encoding": {
                    "x": {"field": "lo", "type": "quantitative"},
                    "color": {"condition": {"test": "datum.gate == 'P3'", "value": "#111111"}, "value": "#555555"},
                    "strokeWidth": {"condition": {"test": "datum.gate == 'P3'", "value": 2}, "value": 1}
                  }
                },
                {
                  "data": {"name": "gates_epcam"},
                  "mark": {"type": "rule"},
                  "encoding": {
                    "x": {"field": "hi", "type": "quantitative"},
                    "color": {"condition": {"test": "datum.gate == 'P3'", "value": "#111111"}, "value": "#555555"},
                    "strokeWidth": {"condition": {"test": "datum.gate == 'P3'", "value": 2}, "value": 1}
                  }
                },
                {
                  "data": {"name": "gates_epcam"},
                  "mark": {"type": "rule"},
                  "encoding": {
                    "x": {"field": "lo", "type": "quantitative"},
                    "x2": {"field": "hi"},
                    "y": {"field": "level", "type": "quantitative"},
                    "color": {"condition": {"test": "datum.gate == 'P3'", "value": "#222222"}, "value": "#666666"},
                    "strokeWidth": {"condition": {"test": "datum.gate == 'P3'", "value": 2}, "value": 1}
                  }
                },
                {
                  "data": {"name": "gates_epcam"},
                  "mark": {"type": "text", "fontSize": 9, "color": "#333333", "baseline": "middle"},
                  "encoding": {
                    "x": {"field": "label_x", "type": "quantitative"},
                    "y": {"field": "label_y", "type": "quantitative"},
                    "text": {"field": "gate"}
                  }
                }
              ]
            },
            {
              "width": 645,
              "height": 44,
              "view": {"stroke": null},
              "data": {"values": [{"caption": "EpCAM：77.4%"}]},
              "mark": {"type": "text", "font": "Liberation Serif", "fontSize": 26, "color": "#222222"},
              "encoding": {"text": {"field": "caption"}}
            }
          ]
        },
        {
          "spacing": 12,
          "vconcat": [
            {
              "width": 652,
              "height": 191,
              "title": {"text": "Cont-FITC_001-P2", "font": "Liberation Sans", "fontSize": 10.5, "fontWeight": "normal", "color": "#333333", "offset": 5},
              "encoding": {
                "x": {"type": "quantitative", "scale": {"domain": [1.31, 5.437], "nice": false, "zero": false},
                      "axis": {"values": [1.477, 1.602, 1.699, 1.778, 1.845, 1.903, 1.954, 2, 2.301, 2.477, 2.602, 2.699, 2.778, 2.845, 2.903, 2.954, 3, 3.301, 3.477, 3.602, 3.699, 3.778, 3.845, 3.903, 3.954, 4, 4.301, 4.477, 4.602, 4.699, 4.778, 4.845, 4.903, 4.954, 5, 5.301], "labelExpr": "datum.value == 2 ? '10²' : datum.value == 3 ? '10³' : datum.value == 4 ? '10⁴' : datum.value == 5 ? '10⁵' : ''", "tickSize": 6, "tickWidth": 1.5, "labelFontSize": 10, "labelPadding": 6, "labelFlush": false, "title": "FITC-A", "titleFontSize": 10, "titlePadding": 10}},
                "y": {"type": "quantitative", "scale": {"domain": [0, 40], "nice": false},
                      "axis": {"values": [0, 1, 2, 3, 4, 5, 6, 7, 8, 9, 10, 11, 12, 13, 14, 15, 16, 17, 18, 19, 20, 21, 22, 23, 24, 25, 26, 27, 28, 29, 30, 31, 32, 33, 34, 35, 36, 37, 38, 39, 40], "labelExpr": "datum.value % 5 == 0 ? datum.label : ''", "labelAngle": -90, "tickSize": 4, "labelFontSize": 9, "labelPadding": 2, "labelFlush": false, "title": "Count", "titleFontSize": 11, "titlePadding": 3}}
              },
              "layer": [
                {
                  "data": {"name": "hist_igg"},
                  "mark": {"type": "area", "color": "#d9776b", "opacity": 1},
                  "encoding": {
                    "x": {"field": "log10_fitc", "type": "quantitative"},
                    "y": {"field": "count", "type": "quantitative"}
                  }
                },
                {
                  "data": {"name": "hist_igg"},
                  "mark": {"type": "line", "color": "#c42a20", "strokeWidth": 1},
                  "encoding": {
                    "x": {"field": "log10_fitc", "type": "quantitative"},
                    "y": {"field": "count", "type": "quantitative"}
                  }
                },
                {
                  "data": {"name": "gates_igg"},
                  "mark": {"type": "rule"},
                  "encoding": {
                    "x": {"field": "lo", "type": "quantitative"},
                    "color": {"condition": {"test": "datum.gate == 'P3'", "value": "#111111"}, "value": "#444444"},
                    "strokeWidth": {"condition": {"test": "datum.gate == 'P3'", "value": 2}, "value": 1.2}
                  }
                },
                {
                  "data": {"name": "gates_igg"},
                  "mark": {"type": "rule"},
                  "encoding": {
                    "x": {"field": "hi", "type": "quantitative"},
                    "color": {"condition": {"test": "datum.gate == 'P3'", "value": "#111111"}, "value": "#444444"},
                    "strokeWidth": {"condition": {"test": "datum.gate == 'P3'", "value": 2}, "value": 1.2}
                  }
                },
                {
                  "data": {"name": "gates_igg"},
                  "mark": {"type": "rule", "color": "#222222", "strokeWidth": 2},
                  "encoding": {
                    "x": {"field": "lo", "type": "quantitative"},
                    "x2": {"field": "hi"},
                    "y": {"field": "level", "type": "quantitative"}
                  }
                },
                {
                  "data": {"name": "gates_igg"},
                  "mark": {"type": "text", "fontSize": 9, "color": "#333333", "baseline": "middle"},
                  "encoding": {
                    "x": {"field": "label_x", "type": "quantitative"},
                    "y": {"field": "label_y", "type": "quantitative"},
                    "text": {"field": "gate"}
                  }
                }
              ]
            },
            {
              "width": 652,
              "height": 44,
              "view": {"stroke": null},
              "data": {"values": [{"caption": "IgG"}]},
              "mark": {"type": "text", "font": "Liberation Serif", "fontSize": 28, "color": "#222222"},
              "encoding": {"text": {"field": "caption"}}
            }
          ]
        }
      ]
    }
  ],
  "config": {
    "view": {"stroke": "#000000", "strokeWidth": 2},
    "axis": {"domain": false, "grid": false, "labelFont": "Liberation Sans", "titleFont": "Liberation Sans", "labelColor": "#333333", "titleColor": "#333333", "titleFontWeight": "normal", "tickColor": "#333333"},
    "text": {"font": "Liberation Sans"}
  }
}
